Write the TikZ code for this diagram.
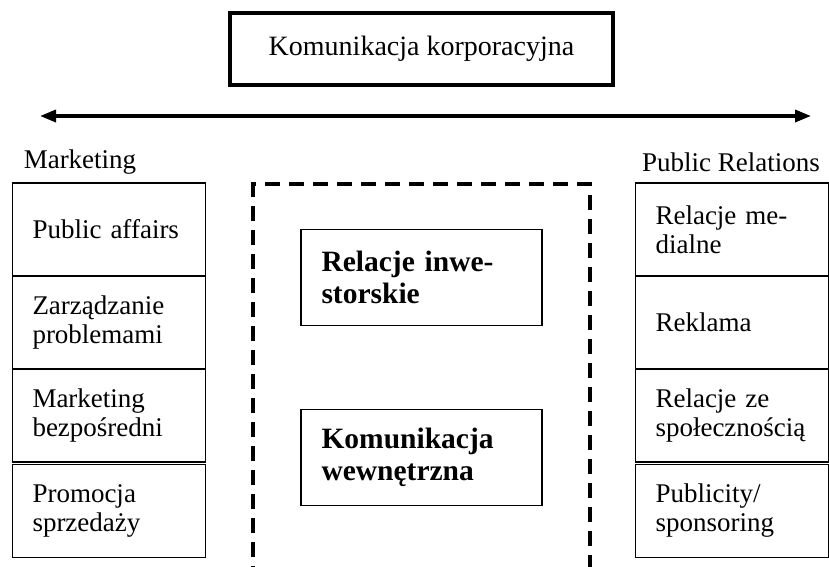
\documentclass[tikz,border=0pt]{standalone}
\usepackage{fontspec}
\setmainfont{Liberation Serif}
\usetikzlibrary{arrows.meta,positioning}
\tikzset{
  topbox/.style={draw, line width=3.5pt, minimum width=383pt, minimum height=72pt, font=\fontsize{28}{32}\selectfont},
  span/.style={{Triangle[length=16pt,width=12pt]}-{Triangle[length=16pt,width=12pt]}, line width=3.5pt},
  heading/.style={font=\fontsize{27}{30}\selectfont},
  sidebox/.style={draw, line width=1.6pt, outer sep=0pt, inner sep=0pt, minimum width=193pt, minimum height=93pt, text width=153pt, align=left, font=\fontsize{27}{29}\selectfont},
  frame/.style={draw, line width=4pt, dash pattern=on 15pt off 9pt, minimum width=337pt, minimum height=384.5pt},
  innerbox/.style={draw, line width=1.3pt, inner sep=0pt, minimum width=241pt, minimum height=96pt, text width=200pt, align=left, font=\bfseries\fontsize{29.5}{32}\selectfont}
}
\begin{document}
\begin{tikzpicture}[x=1pt, y=-1pt]
  \clip (0,0) rectangle (829,566);
  \node[topbox] (corp) at (421.5,49) {Komunikacja korporacyjna};
  \coordinate (spanL) at (40,116);
  \coordinate (spanR) at (811,116);
  \draw[span] (spanL) -- (spanR);

  % marketing column
  \node[heading] (mkt) at (80,162) {Marketing};
  \node[sidebox] (pa) at (109,229.5) {Public affairs};
  \node[sidebox, below=0pt of pa] (zp) {Zarządzanie\\problemami};
  \node[sidebox, below=0pt of zp] (mb) {Marketing\\bezpośredni};
  \node[sidebox, below=2.5pt of mb] (ps) {Promocja\\sprzedaży};

  % public relations column
  \node[heading] (pr) at (731,162) {Public Relations};
  \node[sidebox] (rm) at (732,229.5) {Relacje me-\\dialne};
  \node[sidebox, below=0pt of rm] (rk) {Reklama};
  \node[sidebox, below=0pt of rk] (rs) {Relacje ze\\społecznością};
  \node[sidebox, below=2.5pt of rs] (ps2) {Publicity/\\sponsoring};

  % middle
  \node[frame] (mid) at (421.5,376.25) {};
  \node[innerbox] (inv) at (421.5,277.5) {Relacje inwe-\\storskie};
  \node[innerbox] (wew) at (421.5,457.5) {Komunikacja\\wewnętrzna};
\end{tikzpicture}
\end{document}
